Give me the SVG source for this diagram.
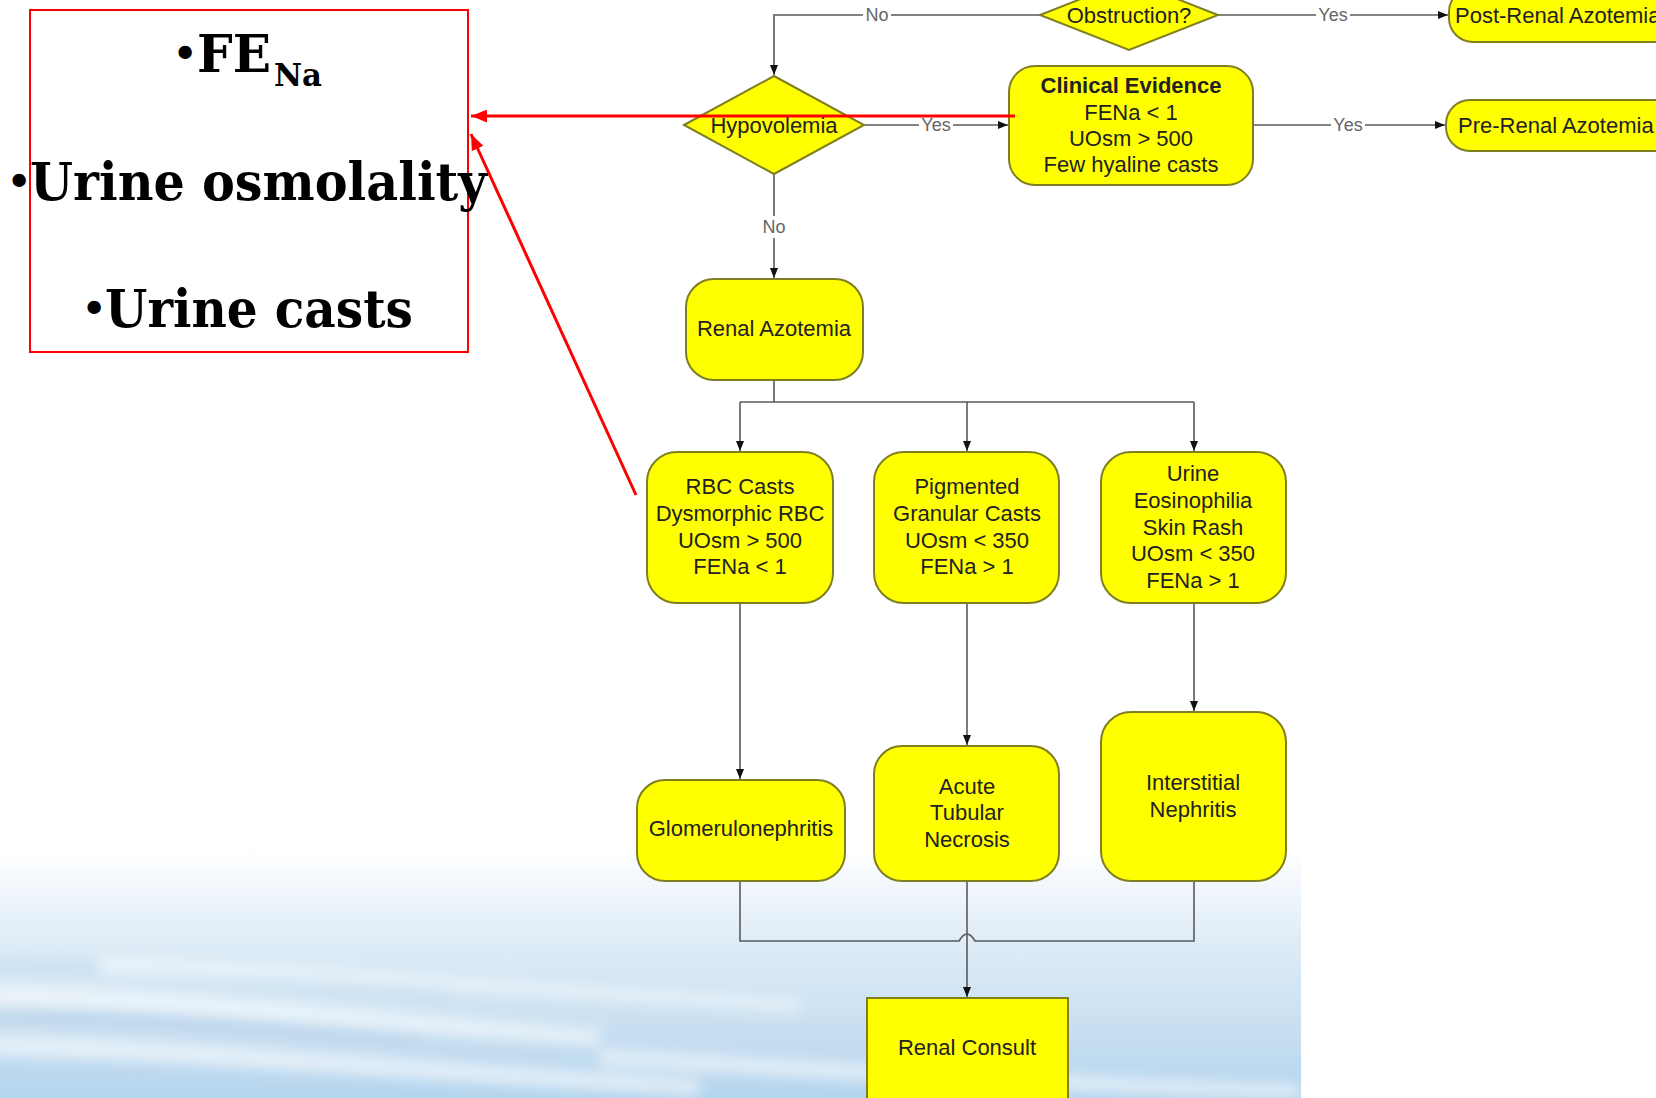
<svg xmlns="http://www.w3.org/2000/svg" width="1656" height="1098" viewBox="0 0 1656 1098">
<style>
.node{fill:#ffff00;stroke:#7f7f22;stroke-width:2}
.t{font-family:"Liberation Sans",Arial,sans-serif;font-size:22px;fill:#222;text-anchor:middle}
.b{font-weight:bold}
.lbl{font-family:"Liberation Sans",Arial,sans-serif;font-size:18px;fill:#666;text-anchor:middle}
.lblbg{fill:#ffffff}
.conn{fill:none;stroke:#5a5a5a;stroke-width:1.6}
.red{fill:none;stroke:#ff0000;stroke-width:3}
.big{font-family:"DejaVu Serif","Liberation Serif",serif;font-weight:bold;font-size:52px;fill:#000}
.bul{font-size:38px}
</style>
<defs>
<marker id="arr" viewBox="0 0 10 8" refX="10" refY="4" markerWidth="11" markerHeight="8" markerUnits="userSpaceOnUse" orient="auto">
<path d="M0,0 L10,4 L0,8 z" fill="#111"/>
</marker>
<marker id="rarr" viewBox="0 0 15 12" refX="15" refY="6" markerWidth="16" markerHeight="13" markerUnits="userSpaceOnUse" orient="auto">
<path d="M0,0 L15,6 L0,12 z" fill="#ff0000"/>
</marker>
<linearGradient id="sky" x1="0" y1="0" x2="0" y2="1">
<stop offset="0" stop-color="#ffffff"/>
<stop offset="0.1" stop-color="#f6f9fd"/>
<stop offset="0.35" stop-color="#e0edf7"/>
<stop offset="0.7" stop-color="#cae0f1"/>
<stop offset="1" stop-color="#b4d4ed"/>
</linearGradient>
<filter id="blur" x="-20%" y="-50%" width="140%" height="200%"><feGaussianBlur stdDeviation="7"/></filter>
<clipPath id="skyclip"><rect x="0" y="850" width="1301" height="248"/></clipPath>
</defs>
<rect width="1656" height="1098" fill="#ffffff"/>
<g id="sky-bg" clip-path="url(#skyclip)">
<rect x="0" y="850" width="1301" height="248" fill="url(#sky)"/>
<g filter="url(#blur)" opacity="0.6">
<path d="M-20,985 C200,990 350,1010 600,1030 L600,1045 C350,1030 200,1010 -20,1005 z" fill="#ffffff"/>
<path d="M-20,1035 C200,1040 400,1060 700,1080 L700,1095 C400,1080 200,1060 -20,1055 z" fill="#ffffff"/>
<path d="M-20,1010 C150,1010 300,1025 420,1035 L420,1042 C300,1035 150,1022 -20,1020 z" fill="#a9cbe6"/>
<path d="M-20,960 C150,962 300,975 450,990 L450,998 C300,985 150,972 -20,970 z" fill="#b9d6ec"/>
<path d="M100,960 C300,965 500,985 800,1000 L800,1010 C500,995 300,975 100,972 z" fill="#ffffff"/>
<path d="M600,1050 C800,1060 1000,1075 1300,1085 L1300,1098 C1000,1090 800,1075 600,1065 z" fill="#ffffff"/>
</g>
</g>
<g id="connectors">
<path class="conn" d="M1040,15 H774 V75" marker-end="url(#arr)"/>
<path class="conn" d="M1218,15 H1448" marker-end="url(#arr)"/>
<path class="conn" d="M864,125 H1008" marker-end="url(#arr)"/>
<path class="conn" d="M1253,125 H1445" marker-end="url(#arr)"/>
<path class="conn" d="M774,174 V278" marker-end="url(#arr)"/>
<path class="conn" d="M774,380 V402 M740,402 H1194"/>
<path class="conn" d="M740,402 V451" marker-end="url(#arr)"/>
<path class="conn" d="M967,402 V451" marker-end="url(#arr)"/>
<path class="conn" d="M1194,402 V451" marker-end="url(#arr)"/>
<path class="conn" d="M740,603 V779" marker-end="url(#arr)"/>
<path class="conn" d="M967,603 V745" marker-end="url(#arr)"/>
<path class="conn" d="M1194,603 V711" marker-end="url(#arr)"/>
<path class="conn" d="M740,881 V941 H959 Q963,934 967,934 Q971,934 975,941 H1194 V881"/>
<path class="conn" d="M967,881 V997" marker-end="url(#arr)"/>
<rect class="lblbg" x="863" y="5" width="28" height="20"/>
<text class="lbl" x="877" y="21">No</text>
<rect class="lblbg" x="1316" y="5" width="34" height="20"/>
<text class="lbl" x="1333" y="21">Yes</text>
<rect class="lblbg" x="919" y="115" width="34" height="20"/>
<text class="lbl" x="936" y="131">Yes</text>
<rect class="lblbg" x="1331" y="115" width="34" height="20"/>
<text class="lbl" x="1348" y="131">Yes</text>
<rect class="lblbg" x="760" y="216" width="28" height="22"/>
<text class="lbl" x="774" y="233">No</text>
</g>
<g id="n-obstruction">
<polygon class="node" points="1040,15 1129,-20 1218,15 1129,50"/>
<text class="t" x="1129" y="23">Obstruction?</text>
</g>
<g id="n-postrenal">
<rect class="node" x="1449" y="-12" width="260" height="54" rx="24"/>
<text class="t" x="1455" y="23" style="text-anchor:start">Post-Renal Azotemia</text>
</g>
<g id="n-hypovolemia">
<polygon class="node" points="684,125 774,76 864,125 774,174"/>
<text class="t" x="774" y="133">Hypovolemia</text>
</g>
<g id="n-clinical">
<rect class="node" x="1009" y="66" width="244" height="119" rx="26"/>
<text class="t" x="1131"><tspan class="b" x="1131" y="93">Clinical Evidence</tspan><tspan x="1131" y="120">FENa &lt; 1</tspan><tspan x="1131" y="146">UOsm &gt; 500</tspan><tspan x="1131" y="172">Few hyaline casts</tspan></text>
</g>
<g id="n-prerenal">
<rect class="node" x="1446" y="100" width="260" height="51" rx="24"/>
<text class="t" x="1458" y="133" style="text-anchor:start">Pre-Renal Azotemia</text>
</g>
<g id="n-renal">
<rect class="node" x="686" y="279" width="177" height="101" rx="28"/>
<text class="t" x="774" y="336">Renal Azotemia</text>
</g>
<g id="n-rbc">
<rect class="node" x="647" y="452" width="186" height="151" rx="30"/>
<text class="t"><tspan x="740" y="494">RBC Casts</tspan><tspan x="740" y="521">Dysmorphic RBC</tspan><tspan x="740" y="548">UOsm &gt; 500</tspan><tspan x="740" y="574">FENa &lt; 1</tspan></text>
</g>
<g id="n-pigmented">
<rect class="node" x="874" y="452" width="185" height="151" rx="30"/>
<text class="t"><tspan x="967" y="494">Pigmented</tspan><tspan x="967" y="521">Granular Casts</tspan><tspan x="967" y="548">UOsm &lt; 350</tspan><tspan x="967" y="574">FENa &gt; 1</tspan></text>
</g>
<g id="n-urine">
<rect class="node" x="1101" y="452" width="185" height="151" rx="30"/>
<text class="t"><tspan x="1193" y="481">Urine</tspan><tspan x="1193" y="508">Eosinophilia</tspan><tspan x="1193" y="535">Skin Rash</tspan><tspan x="1193" y="561">UOsm &lt; 350</tspan><tspan x="1193" y="588">FENa &gt; 1</tspan></text>
</g>
<g id="n-glomerulo">
<rect class="node" x="637" y="780" width="208" height="101" rx="28"/>
<text class="t" x="741" y="836">Glomerulonephritis</text>
</g>
<g id="n-atn">
<rect class="node" x="874" y="746" width="185" height="135" rx="28"/>
<text class="t"><tspan x="967" y="794">Acute</tspan><tspan x="967" y="820">Tubular</tspan><tspan x="967" y="847">Necrosis</tspan></text>
</g>
<g id="n-interstitial">
<rect class="node" x="1101" y="712" width="185" height="169" rx="30"/>
<text class="t"><tspan x="1193" y="790">Interstitial</tspan><tspan x="1193" y="817">Nephritis</tspan></text>
</g>
<g id="n-consult">
<rect class="node" x="867" y="998" width="201" height="110"/>
<text class="t" x="967" y="1055">Renal Consult</text>
</g>
<g id="n-tests">
<rect x="30" y="10" width="438" height="342" fill="none" stroke="#ff0000" stroke-width="2"/>
<text class="big"><tspan class="bul" x="173" y="66">•</tspan><tspan x="197" y="72" textLength="74" lengthAdjust="spacingAndGlyphs">FE</tspan><tspan x="274" y="86" font-size="32" textLength="48" lengthAdjust="spacingAndGlyphs">Na</tspan></text>
<text class="big"><tspan class="bul" x="7" y="194">•</tspan><tspan x="30" y="200" textLength="457" lengthAdjust="spacingAndGlyphs">Urine osmolality</tspan></text>
<text class="big"><tspan class="bul" x="82" y="321">•</tspan><tspan x="105" y="327" textLength="308" lengthAdjust="spacingAndGlyphs">Urine casts</tspan></text>
</g>
<g id="red-arrows">
<path class="red" d="M1015,116 H471" marker-end="url(#rarr)"/>
<path class="red" d="M636,495 L471,134" marker-end="url(#rarr)"/>
</g>
</svg>
